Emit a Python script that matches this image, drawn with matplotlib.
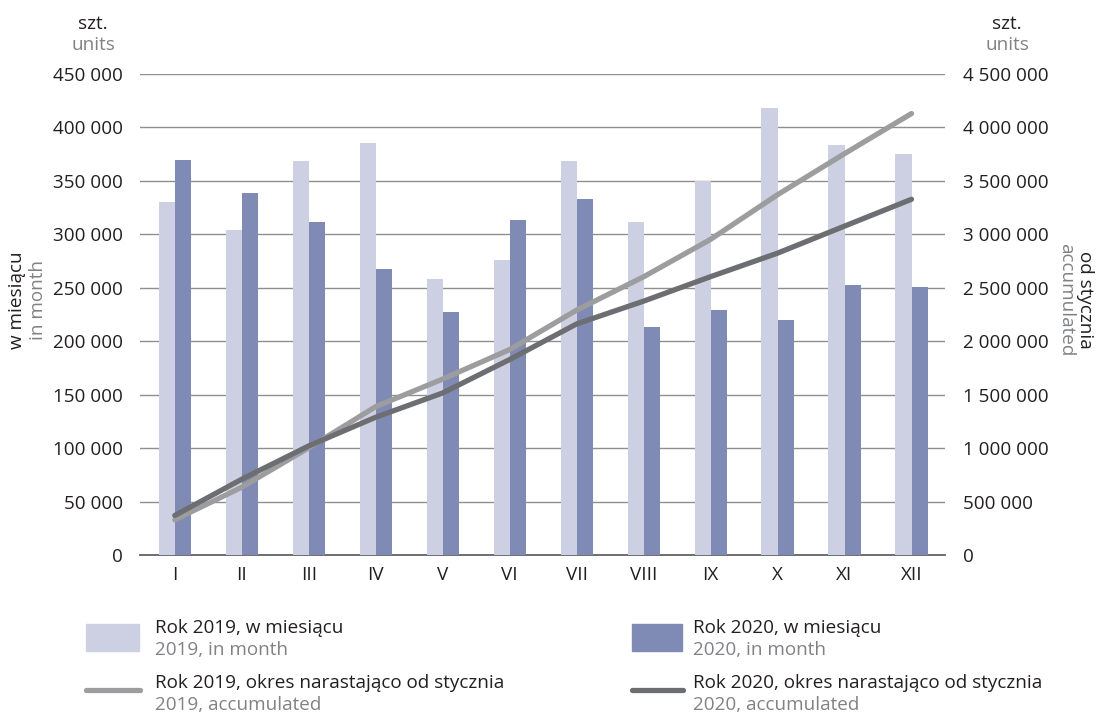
import numpy as np
import matplotlib.pyplot as plt
from matplotlib.patches import Rectangle
from matplotlib.lines import Line2D
from matplotlib.ticker import FuncFormatter

plt.rcParams['font.family'] = ['Open Sans', 'DejaVu Sans']

months = ['I', 'II', 'III', 'IV', 'V', 'VI', 'VII', 'VIII', 'IX', 'X', 'XI', 'XII']
m2019 = [330000, 304000, 369000, 385000, 258000, 276000, 369000, 312000, 350000, 418000, 384000, 375000]
m2020 = [370000, 339000, 312000, 268000, 227000, 313000, 333000, 213000, 229000, 220000, 253000, 251000]
acc2019 = [330000, 634000, 1003000, 1388000, 1646000, 1922000, 2291000, 2603000, 2953000, 3371000, 3755000, 4130000]
acc2020 = [370000, 709000, 1021000, 1289000, 1516000, 1829000, 2162000, 2375000, 2604000, 2824000, 3077000, 3328000]

c19_bar = '#cdd0e3'
c20_bar = '#7f8bb5'
c19_line = '#9d9d9f'
c20_line = '#6d6e71'
dark = '#231f20'
grey = '#808285'
fs = 13.6

W, H = 1102, 714
fig = plt.figure(figsize=(W / 100, H / 100), dpi=100)
ax = fig.add_axes([140 / W, 1 - 555 / H, (945 - 140) / W, (555 - 74) / H])
ax2 = ax.twinx()

x = np.arange(len(months))
bw = 0.24
ax.bar(x - bw / 2, m2019, bw, color=c19_bar, zorder=3)
ax.bar(x + bw / 2, m2020, bw, color=c20_bar, zorder=3)

ax2.plot(x, acc2019, color=c19_line, lw=3.8, solid_capstyle='round', zorder=4)
ax2.plot(x, acc2020, color=c20_line, lw=3.8, solid_capstyle='round', zorder=5)

ax.set_xlim(-0.52, 11.5)
ax.set_ylim(0, 450000)
ax2.set_ylim(0, 4500000)
ax.set_yticks(np.arange(0, 450001, 50000))
ax2.set_yticks(np.arange(0, 4500001, 500000))

fmt = FuncFormatter(lambda v, p: '{:,}'.format(int(v)).replace(',', ' '))
ax.yaxis.set_major_formatter(fmt)
ax2.yaxis.set_major_formatter(fmt)

ax.set_xticks(x)
ax.set_xticklabels(months)
ax.grid(axis='y', color='#8f8f8f', lw=1.0, zorder=0)
ax.set_axisbelow(True)

for a in (ax, ax2):
    for s in a.spines.values():
        s.set_visible(False)
    a.tick_params(length=0, labelsize=fs, labelcolor=dark)
ax.spines['bottom'].set_visible(True)
ax.spines['bottom'].set_color('#6d6e71')
ax.spines['bottom'].set_linewidth(1.4)
ax.tick_params(axis='y', pad=12)
ax.tick_params(axis='x', pad=8)
ax2.tick_params(axis='y', pad=13)
ax.set_zorder(ax2.get_zorder() - 1)
ax.patch.set_visible(False)

# unit captions
fig.text(93 / W, 1 - 24 / H, 'szt.', ha='center', va='center', fontsize=fs, color=dark)
fig.text(93 / W, 1 - 45 / H, 'units', ha='center', va='center', fontsize=fs, color=grey)
fig.text(1007 / W, 1 - 24 / H, 'szt.', ha='center', va='center', fontsize=fs, color=dark)
fig.text(1007 / W, 1 - 45 / H, 'units', ha='center', va='center', fontsize=fs, color=grey)

# axis titles
fig.text(17 / W, 1 - 300 / H, 'w miesiącu', rotation=90, ha='center', va='center', fontsize=fs, color=dark)
fig.text(38 / W, 1 - 300 / H, 'in month', rotation=90, ha='center', va='center', fontsize=fs, color=grey)
fig.text(1085 / W, 1 - 300 / H, 'od stycznia', rotation=-90, ha='center', va='center', fontsize=fs, color=dark)
fig.text(1066 / W, 1 - 300 / H, 'accumulated', rotation=-90, ha='center', va='center', fontsize=fs, color=grey)

# legend
def patch_entry(x0, x1, txt_x, color, t1, t2):
    fig.patches.append(Rectangle((x0 / W, 1 - 651 / H), (x1 - x0) / W, 27 / H,
                                 transform=fig.transFigure, color=color))
    fig.text(txt_x / W, 1 - 628 / H, t1, va='center', fontsize=fs, color=dark)
    fig.text(txt_x / W, 1 - 650 / H, t2, va='center', fontsize=fs, color=grey)

def line_entry(x0, x1, txt_x, color, t1, t2):
    fig.lines.append(Line2D([x0 / W, x1 / W], [1 - 690 / H, 1 - 690 / H], transform=fig.transFigure,
                            color=color, lw=3.8, solid_capstyle='round'))
    fig.text(txt_x / W, 1 - 683 / H, t1, va='center', fontsize=fs, color=dark)
    fig.text(txt_x / W, 1 - 705 / H, t2, va='center', fontsize=fs, color=grey)

patch_entry(86, 139, 155, c19_bar, 'Rok 2019, w miesiącu', '2019, in month')
patch_entry(632, 682, 693, c20_bar, 'Rok 2020, w miesiącu', '2020, in month')
line_entry(86, 140, 155, c19_line, 'Rok 2019, okres narastająco od stycznia', '2019, accumulated')
line_entry(632, 683, 693, c20_line, 'Rok 2020, okres narastająco od stycznia', '2020, accumulated')

fig.savefig('out.png', dpi=100)
